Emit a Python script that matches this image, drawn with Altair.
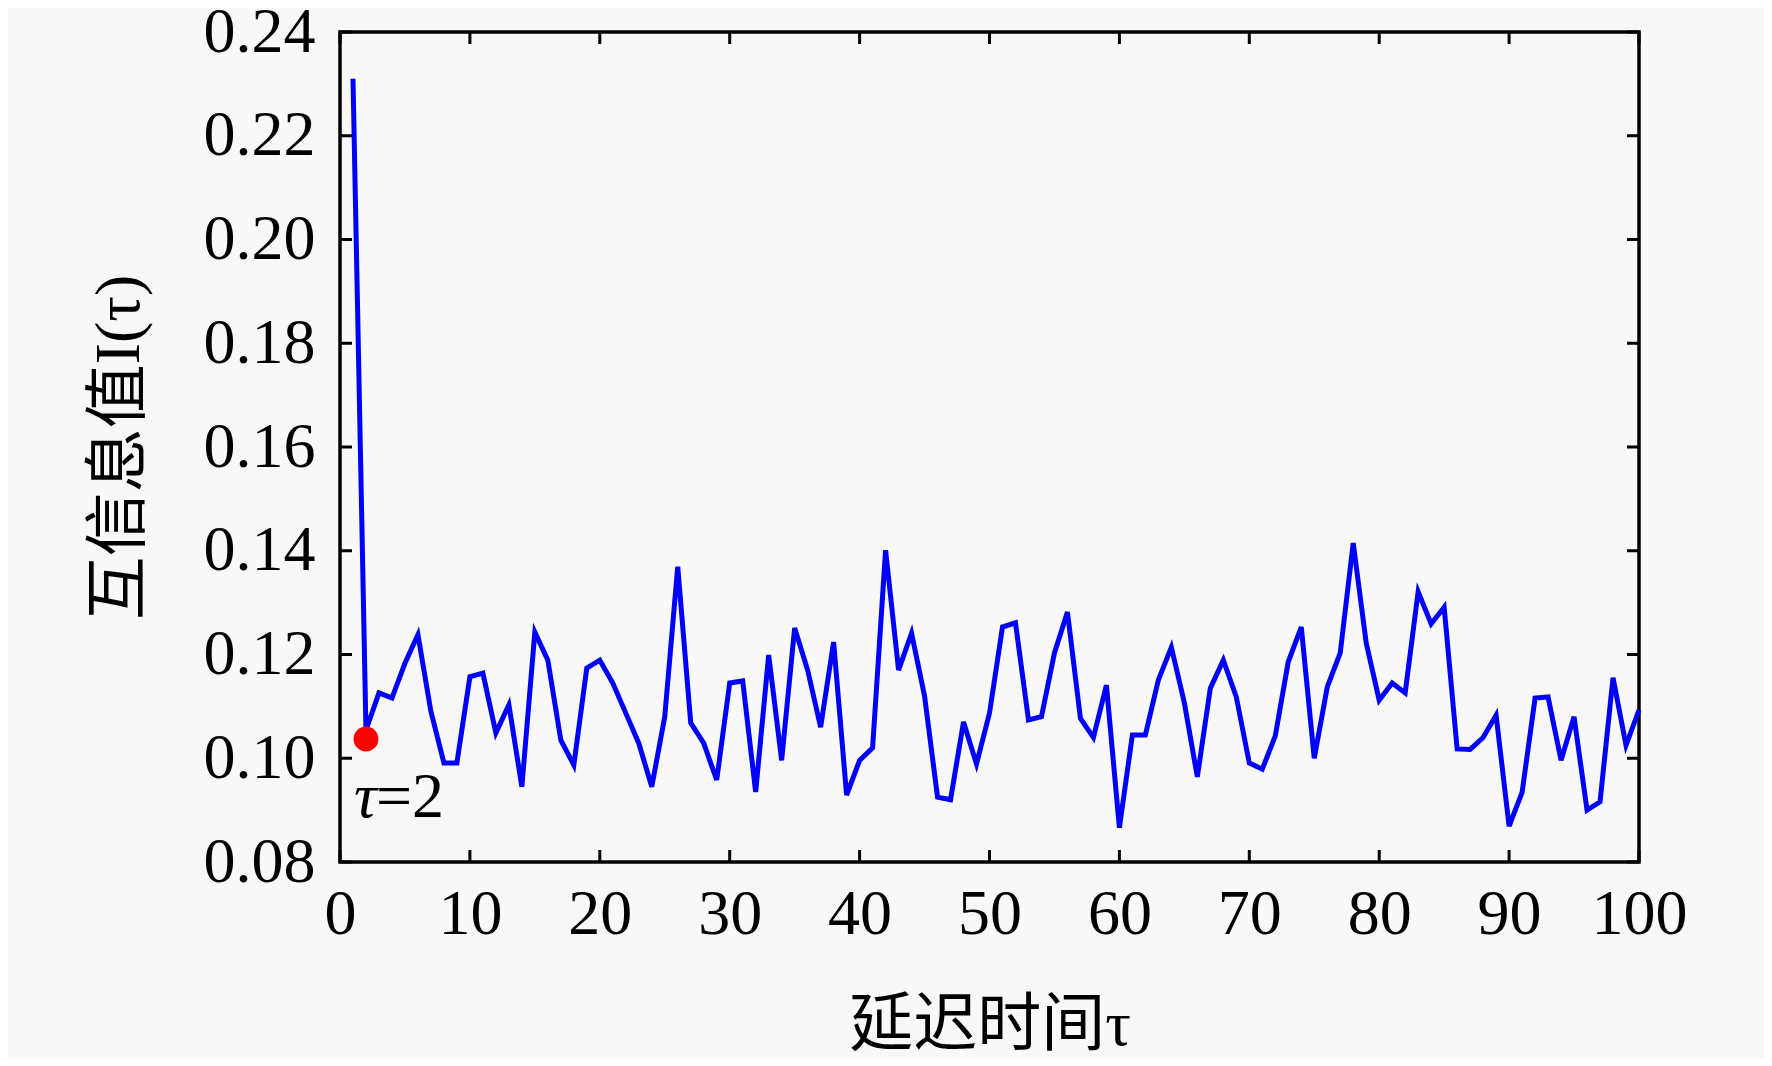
import altair as alt
import pandas as pd

# ---- data ----
lag = list(range(1, 101))
mutual_info = [
    0.2310, 0.1054, 0.1126, 0.1116, 0.1183, 0.1238, 0.1090, 0.0991, 0.0991, 0.1157,
    0.1164, 0.1049, 0.1103, 0.0945, 0.1243, 0.1189, 0.1035, 0.0987, 0.1174, 0.1189,
    0.1145, 0.1087, 0.1029, 0.0945, 0.1080, 0.1369, 0.1068, 0.1029, 0.0958, 0.1145,
    0.1149, 0.0935, 0.1199, 0.0996, 0.1251, 0.1170, 0.1060, 0.1224, 0.0929, 0.0996,
    0.1020, 0.1401, 0.1170, 0.1241, 0.1120, 0.0925, 0.0920, 0.1070, 0.0989, 0.1087,
    0.1253, 0.1261, 0.1074, 0.1080, 0.1203, 0.1282, 0.1077, 0.1040, 0.1141, 0.0866,
    0.1045, 0.1045, 0.1151, 0.1214, 0.1107, 0.0964, 0.1135, 0.1189, 0.1118, 0.0991,
    0.0979, 0.1043, 0.1186, 0.1253, 0.1000, 0.1137, 0.1203, 0.1415, 0.1222, 0.1112,
    0.1145, 0.1126, 0.1321, 0.1259, 0.1291, 0.1018, 0.1017, 0.1040, 0.1083, 0.0869,
    0.0934, 0.1116, 0.1118, 0.0996, 0.1080, 0.0900, 0.0916, 0.1155, 0.1025, 0.1093,
]
marked_lag = [2]
marked_value = [0.1037]
x_ticks = list(range(0, 101, 10))
y_ticks = [0.08, 0.10, 0.12, 0.14, 0.16, 0.18, 0.20, 0.22, 0.24]

df = pd.DataFrame({"lag": lag, "mi": mutual_info})
dot_df = pd.DataFrame({"lag": marked_lag, "mi": marked_value})
xt_df = pd.DataFrame({"lag": x_ticks})
yt_df = pd.DataFrame({"mi": y_ticks})

W, H = 1299, 830
TL = 12  # inward tick length
SERIF = "Liberation Serif"
TITLE_FONT = "Liberation Serif, Noto Sans CJK SC"

x_scale = alt.Scale(domain=[0, 100], nice=False, zero=False)
y_scale = alt.Scale(domain=[0.08, 0.24], nice=False, zero=False)
x_axis = alt.Axis(values=x_ticks, format="d", title="延迟时间τ",
                  labelFlush=False, labelOverlap=False,
                  labelPadding=20, titleY=182, titleBaseline="alphabetic")
y_axis = alt.Axis(values=y_ticks, format=".2f", title="互信息值I(τ)",
                  labelFlush=False, labelOverlap=False,
                  labelPadding=25, titleX=-202, titleY=H / 2,
                  titleBaseline="alphabetic", titleAlign="center")


def X():
    return alt.X("lag:Q", scale=x_scale, axis=x_axis)


def Y():
    return alt.Y("mi:Q", scale=y_scale, axis=y_axis)


line = alt.Chart(df).mark_line(color="#0000ff", strokeWidth=5).encode(x=X(), y=Y())

dot = alt.Chart(dot_df).mark_circle(color="#ff0000", size=620, opacity=1).encode(x=X(), y=Y())

tau_txt = alt.Chart(dot_df).mark_text(
    text="τ", font=SERIF, fontStyle="italic", fontSize=64, color="black",
    align="left", baseline="alphabetic", dx=-12, dy=78,
).encode(x=X(), y=Y())

eq_txt = alt.Chart(dot_df).mark_text(
    text="=2", font=SERIF, fontSize=64, color="black",
    align="left", baseline="alphabetic", dx=10, dy=78,
).encode(x=X(), y=Y())

tick_style = dict(color="black", strokeWidth=3)
x_bottom = alt.Chart(xt_df).mark_rule(**tick_style).encode(
    x=X(), y=alt.value(H), y2=alt.value(H - TL))
x_top = alt.Chart(xt_df).mark_rule(**tick_style).encode(
    x=X(), y=alt.value(0), y2=alt.value(TL))
y_left = alt.Chart(yt_df).mark_rule(**tick_style).encode(
    y=Y(), x=alt.value(0), x2=alt.value(TL))
y_right = alt.Chart(yt_df).mark_rule(**tick_style).encode(
    y=Y(), x=alt.value(W), x2=alt.value(W - TL))

chart = alt.layer(
    line, x_bottom, x_top, y_left, y_right, dot, tau_txt, eq_txt
).properties(
    width=W, height=H,
    padding={"left": 332, "top": 24, "right": 125, "bottom": 196},
    autosize=alt.AutoSizeParams(type="none"),
    background="#f8f8f8",
).configure_view(
    stroke="black", strokeWidth=3.5,
).configure_axis(
    domain=False, grid=False, ticks=False, tickSize=0,
    labelFont=SERIF, labelFontSize=64, labelColor="black",
    titleFont=TITLE_FONT, titleFontSize=64, titleFontWeight="normal",
    titleColor="black",
)

chart.save("out.html", embed_options={"renderer": "svg", "actions": False})
